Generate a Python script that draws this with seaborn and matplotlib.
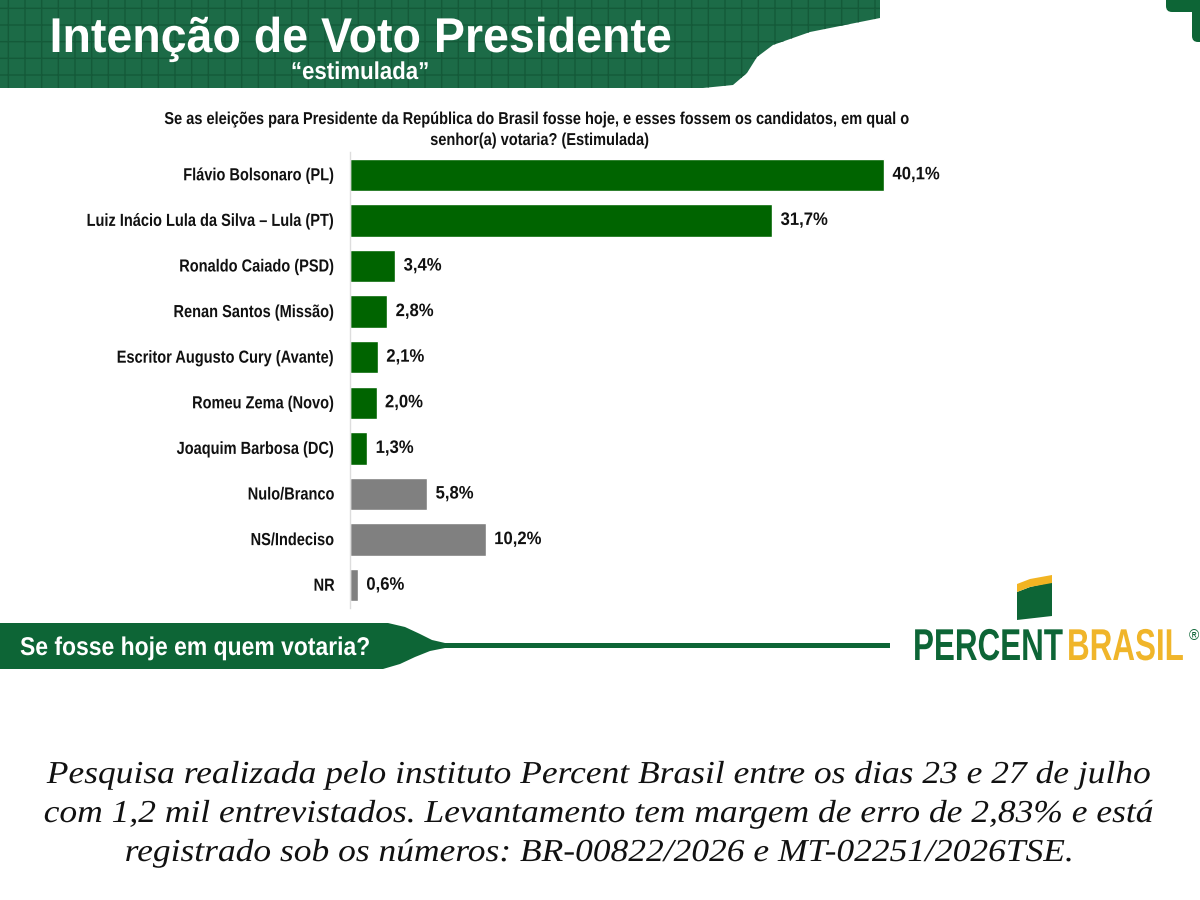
import matplotlib
matplotlib.use("Agg")
import matplotlib.pyplot as plt
import seaborn as sns
import pandas as pd
from matplotlib.patches import Polygon, FancyBboxPatch
from matplotlib.patheffects import AbstractPathEffect
from matplotlib.transforms import Affine2D

# dados
candidatos = [
    "Flávio Bolsonaro (PL)",
    "Luiz Inácio Lula da Silva – Lula (PT)",
    "Ronaldo Caiado (PSD)",
    "Renan Santos (Missão)",
    "Escritor Augusto Cury (Avante)",
    "Romeu Zema (Novo)",
    "Joaquim Barbosa (DC)",
    "Nulo/Branco",
    "NS/Indeciso",
    "NR",
]
percentuais = [40.1, 31.7, 3.4, 2.8, 2.1, 2.0, 1.3, 5.8, 10.2, 0.6]
grupos = ["candidato"] * 7 + ["outros"] * 3

titulo = "Intenção de Voto Presidente"
subtitulo = "“estimulada”"
pergunta = ["Se as eleições para Presidente da República do Brasil fosse hoje, e esses fossem os candidatos, em qual o",
            "senhor(a) votaria? (Estimulada)"]
faixa = "Se fosse hoje em quem votaria?"
rodape = ["Pesquisa realizada pelo instituto Percent Brasil entre os dias 23 e 27 de julho",
          "com 1,2 mil entrevistados. Levantamento tem margem de erro de 2,83% e está",
          "registrado sob os números: BR-00822/2026 e MT-02251/2026TSE."]

VERDE = "#006400"
CINZA = "#808080"
VERDE_CAB = "#1c6b47"
VERDE_FAIXA = "#0d6536"
SANS = ["Liberation Sans", "DejaVu Sans"]


class Estica(AbstractPathEffect):
    """estica o texto: na vertical a partir da linha de base, na horizontal a partir do centro"""
    def __init__(self, sy=1.0, sx=1.0):
        super().__init__()
        self.sy = sy
        self.sx = sx

    def draw_path(self, renderer, gc, tpath, affine, rgbFace=None):
        ext = tpath.get_extents()
        cx = (ext.x0 + ext.x1) / 2
        t = Affine2D().translate(-cx, 0).scale(self.sx, self.sy).translate(cx, 0)
        renderer.draw_path(gc, tpath, t + affine, rgbFace)


sns.set_theme(style="white")
plt.rcParams["font.family"] = SANS

fig = plt.figure(figsize=(12, 9), dpi=100)
fig.patch.set_facecolor("white")

# camada de fundo em pixels
bg = fig.add_axes([0, 0, 1, 1])
bg.set_xlim(0, 1200)
bg.set_ylim(900, 0)
bg.axis("off")
bg.set_zorder(0)

cab = [(0, 0), (880, 0), (880, 18), (860, 22), (810, 32), (773, 45), (757, 57),
       (747, 73), (733, 85), (703, 88), (0, 88)]
bg.add_patch(Polygon(cab, closed=True, facecolor=VERDE_CAB, edgecolor="#145a39",
                     hatch="+", linewidth=0))
bg.add_patch(FancyBboxPatch((1166, -10), 44, 22, boxstyle="round,pad=0,rounding_size=6",
                            facecolor=VERDE_FAIXA, edgecolor="none"))
bg.add_patch(FancyBboxPatch((1192, -10), 20, 52, boxstyle="round,pad=0,rounding_size=6",
                            facecolor=VERDE_FAIXA, edgecolor="none"))
bg.text(361, 52, titulo, color="white", fontsize=33.5, fontweight="bold",
        ha="center", va="baseline", path_effects=[Estica(1.05)])
bg.text(360, 79, subtitulo, color="white", fontsize=16, fontweight="bold",
        ha="center", va="baseline", path_effects=[Estica(1.1)])

for i, linha in enumerate(pergunta):
    bg.text(540, 124 + 21 * i, linha, fontsize=10.5, fontweight="bold", color="#111111",
            ha="center", va="baseline", path_effects=[Estica(1.18)])

# faixa inferior
faixa_pts = [(0, 623), (388, 623), (405, 627), (420, 634), (432, 640), (445, 643), (890, 643),
             (890, 648), (445, 648), (430, 651), (415, 657), (400, 664), (383, 669), (0, 669)]
bg.add_patch(Polygon(faixa_pts, closed=True, facecolor=VERDE_FAIXA, edgecolor="none"))
bg.text(20, 655, faixa, color="white", fontsize=16.5, fontweight="bold",
        ha="left", va="baseline", path_effects=[Estica(1.12)])

# logotipo
bg.add_patch(Polygon([(1017, 592), (1030, 587), (1052, 582), (1052, 616), (1017, 620)],
                     closed=True, facecolor=VERDE_FAIXA, edgecolor="none"))
bg.add_patch(Polygon([(1017, 584), (1030, 579), (1052, 575), (1052, 583), (1030, 587), (1017, 592)],
                     closed=True, facecolor="#f2b422", edgecolor="none"))
bg.text(913, 660, "PERCENT", color=VERDE_FAIXA, fontsize=22.6, fontweight="bold",
        ha="left", va="baseline", path_effects=[Estica(1.42)])
bg.text(1067, 660, "BRASIL", color="#f0b52a", fontsize=22.6, fontweight="bold",
        ha="left", va="baseline", path_effects=[Estica(1.42)])
bg.text(1189, 636, "®", color=VERDE_FAIXA, fontsize=10, ha="left", va="center")

for i, linha in enumerate(rodape):
    bg.text(600, 783 + 39 * i, linha, fontsize=23, style="italic", color="#111111",
            family=["Liberation Serif", "DejaVu Serif"], ha="center", va="baseline",
            path_effects=[Estica(1.0, 1.11)])

# gráfico de barras
df = pd.DataFrame({"candidato": candidatos, "valor": percentuais, "grupo": grupos})
ax = fig.add_axes([350 / 1200, 1 - 608 / 900, 668 / 1200, 456 / 900])
ax.set_zorder(1)
ax.patch.set_alpha(0)
sns.barplot(data=df, x="valor", y="candidato", hue="grupo", orient="h", dodge=False,
            palette={"candidato": VERDE, "outros": CINZA}, width=0.71, saturation=1,
            legend=False, ax=ax, order=candidatos)
ax.set_xlim(0, 668 / 13.32)
ax.set_ylim(9.5, -0.5)
for cont in ax.containers:
    rot = ax.bar_label(cont, labels=[f"{v:.1f}".replace(".", ",") + "%" for v in cont.datavalues],
                       padding=6, fontsize=12, fontweight="bold", color="#111111")
    for r in rot:
        r.set_path_effects([Estica(1.08)])
ax.set_xlabel("")
ax.set_ylabel("")
ax.set_xticks([])
ax.tick_params(axis="y", length=0, pad=11, labelsize=10.5)
for lab in ax.get_yticklabels():
    lab.set_fontweight("bold")
    lab.set_color("#111111")
    lab.set_path_effects([Estica(1.2)])
sns.despine(ax=ax, left=False, bottom=True)
ax.spines["left"].set_color("#dddddd")
ax.spines["left"].set_linewidth(1)

fig.savefig("out.png", dpi=100)
